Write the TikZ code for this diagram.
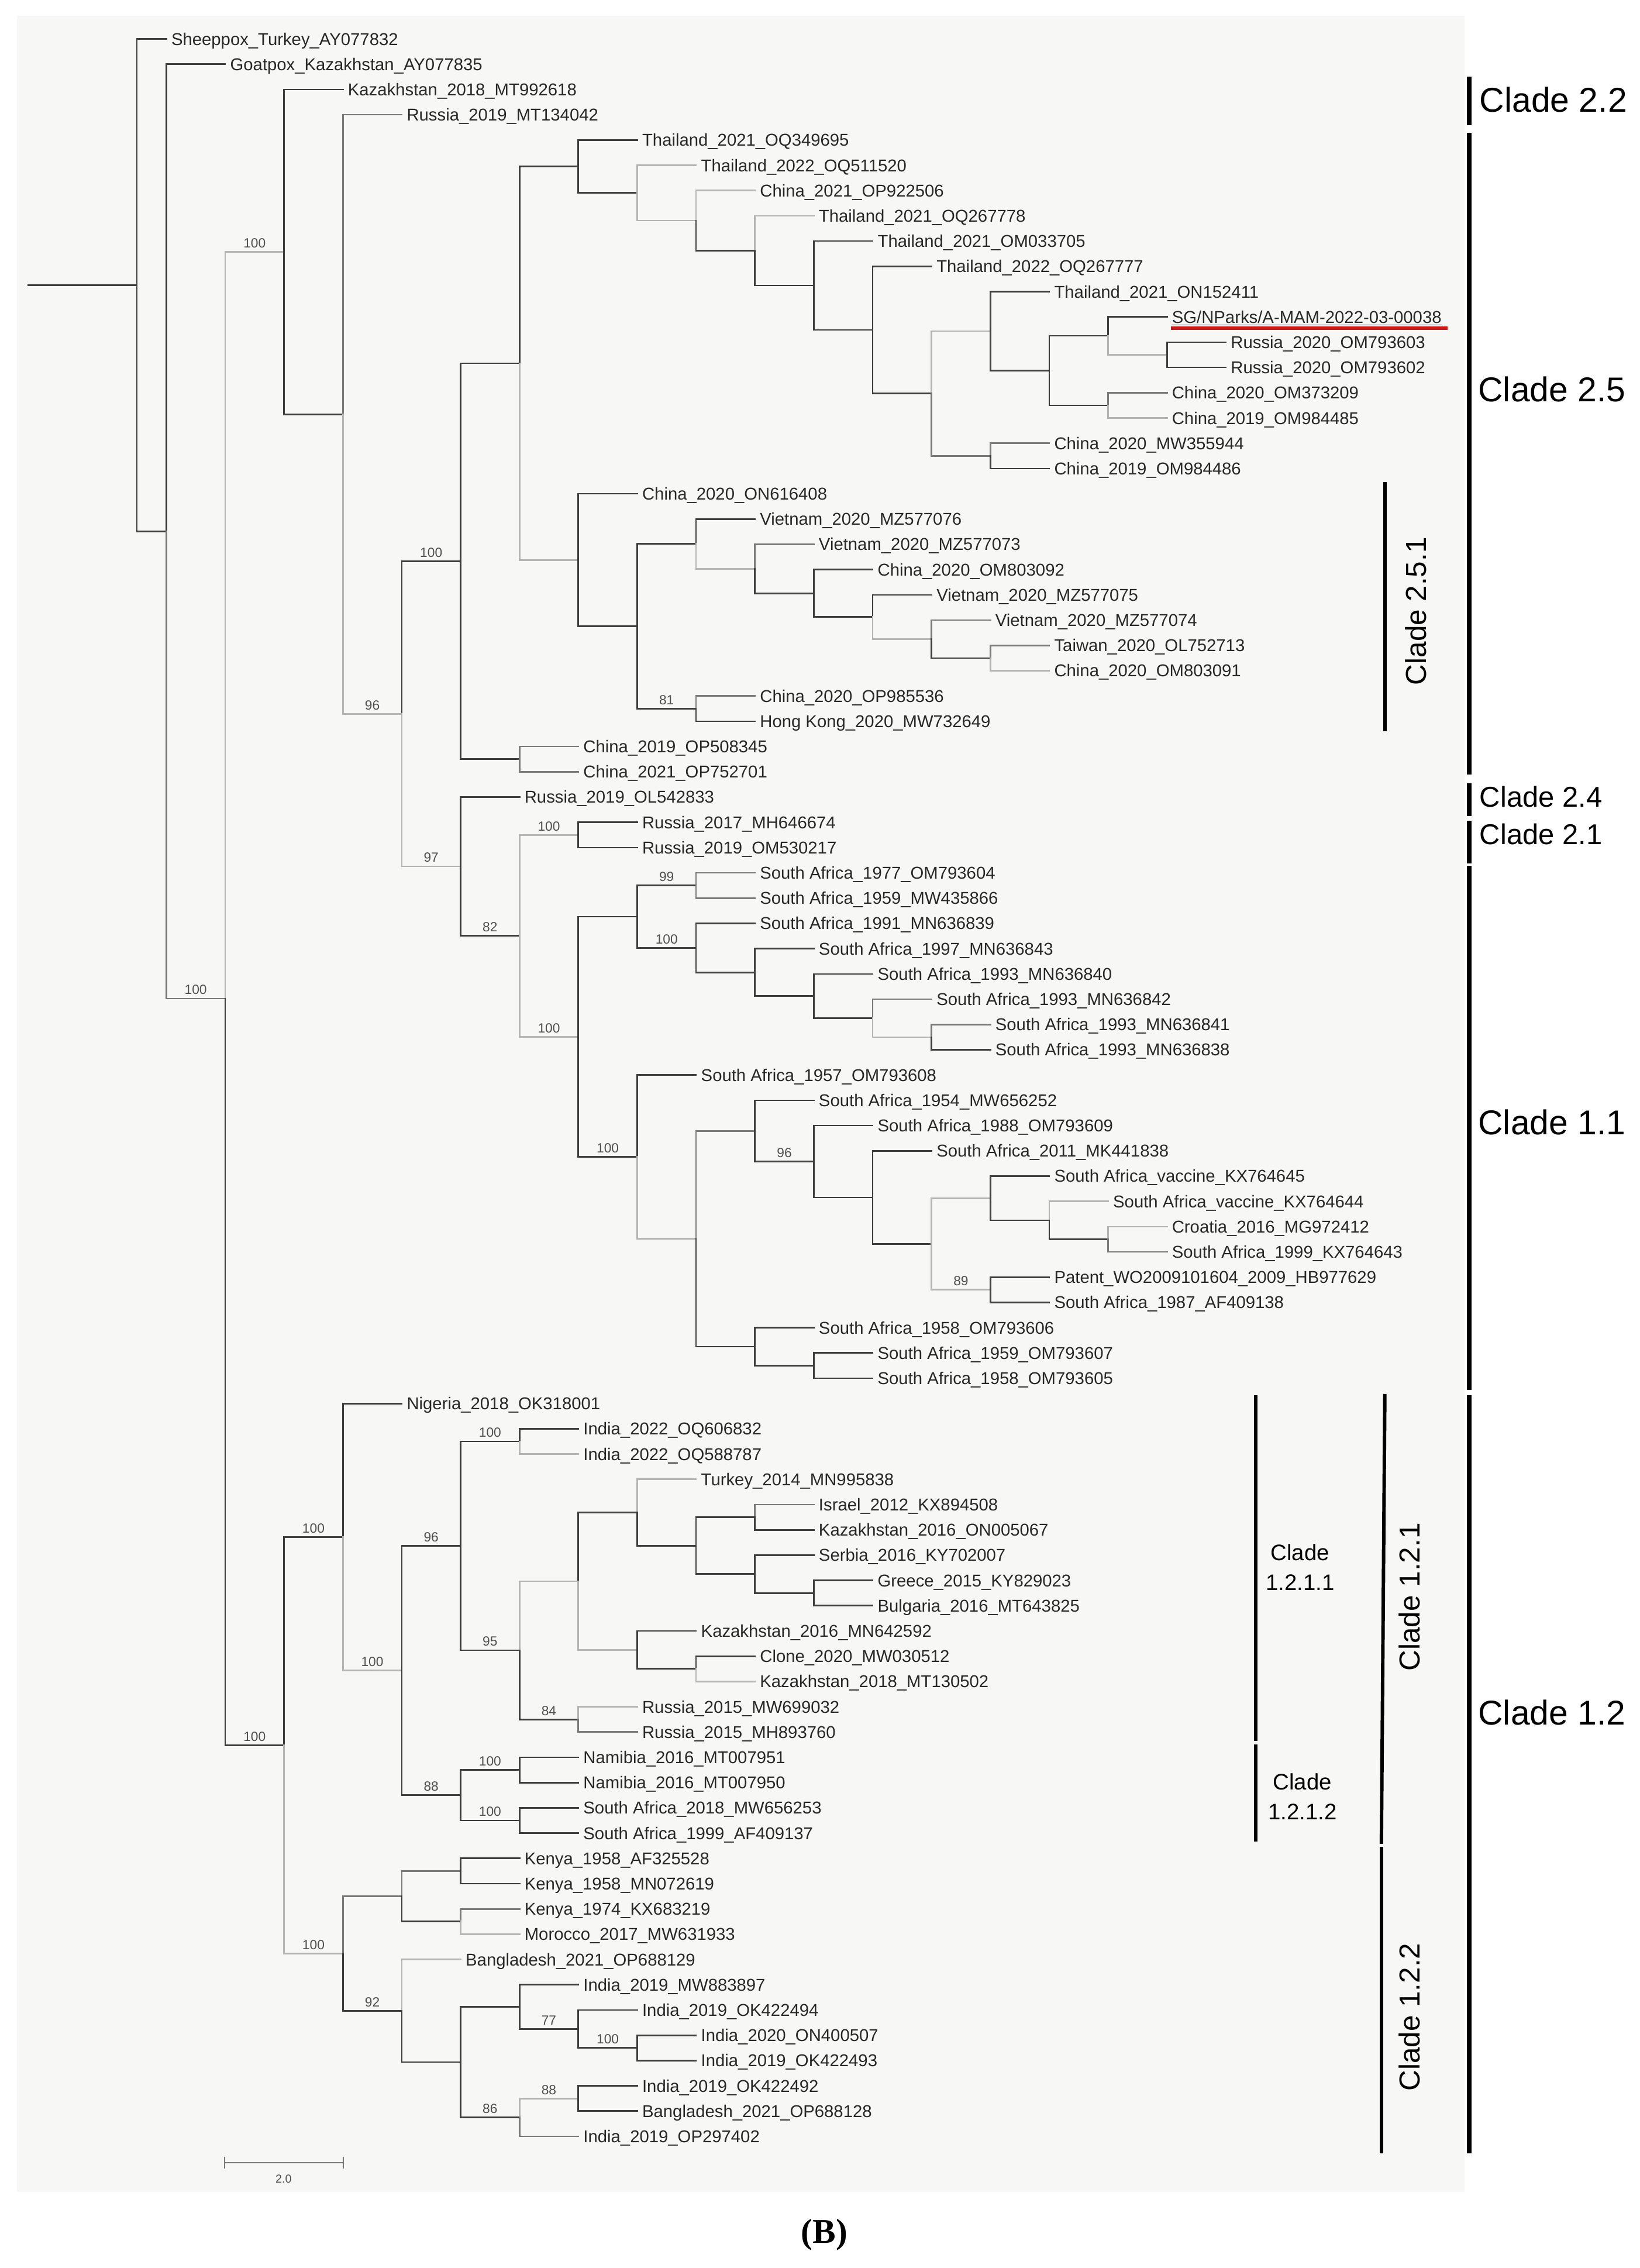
\documentclass[tikz,border=0pt]{standalone}
\usepackage{fontspec}
\setmainfont{Liberation Sans}
\newfontfamily\capfont{Liberation Serif}
\definecolor{bgc}{RGB}{247,247,246}
\definecolor{dk}{RGB}{62,62,62}
\definecolor{md}{RGB}{122,122,122}
\definecolor{lt}{RGB}{180,180,180}
\definecolor{txt}{RGB}{40,40,40}
\definecolor{bsc}{RGB}{80,80,80}
\definecolor{redl}{RGB}{205,22,22}
\newcommand\Xl[1]{115+40.7*(#1)}
\newcommand\Yi[1]{26.9+17.471*((#1)-1)}
\newcommand\inode[3]{\coordinate (#1) at ({\Xl{#2}},{\Yi{#3}});}
\newcommand\leaf[4]{\node[leaf] (#1) at ({\Xl{#2}},{\Yi{#3}}) {#4};}
\newcommand\bsl[4]{\node[boot] (bs#1) at ({\Xl{#2-0.5}},{\Yi{#3}-2.7}) {#4};}
\newcommand\ei[3]{\draw[#1] (#2) |- (#3);}
\newcommand\el[3]{\draw[#1] (#2) |- (#3.west);}
\tikzset{
 edk/.style={draw=dk, line width=1.1pt, line cap=rect},
 emd/.style={draw=md, line width=1.1pt, line cap=rect},
 elt/.style={draw=lt, line width=1.1pt, line cap=rect},
 leaf/.style={anchor=west, inner xsep=3.3pt, inner ysep=0pt, text height=8.5pt, text depth=0pt, font=\fontsize{11.85}{14}\selectfont, text=txt},
 boot/.style={anchor=south, inner sep=0pt, text height=6.6pt, text depth=0pt, font=\fontsize{9.2}{11}\selectfont, text=bsc},
 cladebar/.style={line width=3.3pt, draw=black},
 subbar/.style={line width=2.4pt, draw=black},
 cladebig/.style={anchor=west, inner sep=0pt, font=\fontsize{23.8}{28}\selectfont},
 cladesm/.style={anchor=west, inner sep=0pt, font=\fontsize{19.8}{24}\selectfont},
 claderot/.style={rotate=90, inner sep=0pt, font=\fontsize{20}{24}\selectfont},
 cladetwo/.style={inner sep=0pt, align=center, font=\fontsize{15.5}{20.4}\selectfont}
}
\begin{document}
\begin{tikzpicture}[x=1pt,y=-1pt]
\useasboundingbox (0,0) rectangle (1134,1568);
\fill[bgc] (11.7,11.1) rectangle (1012.7,1515.5);
% internal nodes
\coordinate (root) at (19.4,{\Yi{10.7439}});
\inode{A}{-0.5}{10.7439}
\inode{B}{0}{20.4878}
\inode{C}{1}{38.9756}
\inode{D}{2}{9.4268}
\inode{E}{3}{15.8535}
\inode{F}{4}{27.7070}
\inode{G}{5}{21.6671}
\inode{H}{5}{33.7468}
\inode{I}{6}{13.8342}
\inode{J}{6}{29.5}
\inode{K}{7}{6.0474}
\inode{L}{7}{21.6211}
\inode{M}{8}{7.0947}
\inode{N}{9}{8.1895}
\inode{O}{10}{9.3789}
\inode{P}{11}{10.7578}
\inode{Q}{12}{12.515625}
\inode{R}{13}{15.03125}
\inode{S}{14}{12.5625}
\inode{T}{14}{17.5}
\inode{U}{15}{14.125}
\inode{V}{16}{12.75}
\inode{W}{16}{15.5}
\inode{X}{17}{13.5}
\inode{Y}{8}{24.2422}
\inode{Z}{9}{20.984375}
\inode{AA}{9}{27.5}
\inode{AB}{10}{21.96875}
\inode{AC}{11}{22.9375}
\inode{AD}{12}{23.875}
\inode{AE}{13}{24.75}
\inode{AF}{14}{25.5}
\inode{BA}{6}{36.4937}
\inode{BB}{7}{32.5}
\inode{BC}{7}{40.4873}
\inode{BD}{8}{35.734375}
\inode{BE}{8}{45.2402}
\inode{BF}{9}{34.5}
\inode{BG}{9}{36.96875}
\inode{BH}{10}{37.9375}
\inode{BI}{11}{38.875}
\inode{BJ}{12}{39.75}
\inode{BK}{13}{40.5}
\inode{BL}{9}{48.4805}
\inode{BM}{10}{44.2109}
\inode{BN}{10}{52.75}
\inode{BO}{11}{45.421875}
\inode{BP}{12}{46.84375}
\inode{BQ}{13}{48.6875}
\inode{BR}{14}{46.875}
\inode{BS}{14}{50.5}
\inode{BT}{15}{47.75}
\inode{BU}{16}{48.5}
\inode{BV}{11}{53.5}
\inode{CA}{2}{68.5244}
\inode{CB}{3}{60.2832}
\inode{CC}{3}{76.765625}
\inode{CD}{4}{65.5664}
\inode{CE}{5}{60.6328}
\inode{CF}{5}{70.5}
\inode{CG}{6}{56.5}
\inode{CH}{6}{64.765625}
\inode{CI}{7}{62.03125}
\inode{CJ}{7}{67.5}
\inode{CK}{8}{59.3125}
\inode{CL}{8}{64.75}
\inode{CM}{9}{60.625}
\inode{CN}{10}{59.5}
\inode{CO}{10}{61.75}
\inode{CP}{11}{62.5}
\inode{CQ}{9}{65.5}
\inode{CR}{6}{69.5}
\inode{CS}{6}{71.5}
\inode{CT}{4}{74.5}
\inode{CU}{4}{79.03125}
\inode{CV}{5}{73.5}
\inode{CW}{5}{75.5}
\inode{CX}{5}{81.0625}
\inode{CY}{6}{78.875}
\inode{CZ}{6}{83.25}
\inode{DA}{7}{79.75}
\inode{DB}{8}{80.5}
\inode{DC}{7}{82.5}
% leaves
\leaf{l1}{0}{1}{Sheeppox\_Turkey\_AY077832}
\leaf{l2}{1}{2}{Goatpox\_Kazakhstan\_AY077835}
\leaf{l3}{3}{3}{Kazakhstan\_2018\_MT992618}
\leaf{l4}{4}{4}{Russia\_2019\_MT134042}
\leaf{l5}{8}{5}{Thailand\_2021\_OQ349695}
\leaf{l6}{9}{6}{Thailand\_2022\_OQ511520}
\leaf{l7}{10}{7}{China\_2021\_OP922506}
\leaf{l8}{11}{8}{Thailand\_2021\_OQ267778}
\leaf{l9}{12}{9}{Thailand\_2021\_OM033705}
\leaf{l10}{13}{10}{Thailand\_2022\_OQ267777}
\leaf{l11}{15}{11}{Thailand\_2021\_ON152411}
\leaf{l12}{17}{12}{SG/NParks/A-MAM-2022-03-00038}
\leaf{l13}{18}{13}{Russia\_2020\_OM793603}
\leaf{l14}{18}{14}{Russia\_2020\_OM793602}
\leaf{l15}{17}{15}{China\_2020\_OM373209}
\leaf{l16}{17}{16}{China\_2019\_OM984485}
\leaf{l17}{15}{17}{China\_2020\_MW355944}
\leaf{l18}{15}{18}{China\_2019\_OM984486}
\leaf{l19}{8}{19}{China\_2020\_ON616408}
\leaf{l20}{10}{20}{Vietnam\_2020\_MZ577076}
\leaf{l21}{11}{21}{Vietnam\_2020\_MZ577073}
\leaf{l22}{12}{22}{China\_2020\_OM803092}
\leaf{l23}{13}{23}{Vietnam\_2020\_MZ577075}
\leaf{l24}{14}{24}{Vietnam\_2020\_MZ577074}
\leaf{l25}{15}{25}{Taiwan\_2020\_OL752713}
\leaf{l26}{15}{26}{China\_2020\_OM803091}
\leaf{l27}{10}{27}{China\_2020\_OP985536}
\leaf{l28}{10}{28}{Hong Kong\_2020\_MW732649}
\leaf{l29}{7}{29}{China\_2019\_OP508345}
\leaf{l30}{7}{30}{China\_2021\_OP752701}
\leaf{l31}{6}{31}{Russia\_2019\_OL542833}
\leaf{l32}{8}{32}{Russia\_2017\_MH646674}
\leaf{l33}{8}{33}{Russia\_2019\_OM530217}
\leaf{l34}{10}{34}{South Africa\_1977\_OM793604}
\leaf{l35}{10}{35}{South Africa\_1959\_MW435866}
\leaf{l36}{10}{36}{South Africa\_1991\_MN636839}
\leaf{l37}{11}{37}{South Africa\_1997\_MN636843}
\leaf{l38}{12}{38}{South Africa\_1993\_MN636840}
\leaf{l39}{13}{39}{South Africa\_1993\_MN636842}
\leaf{l40}{14}{40}{South Africa\_1993\_MN636841}
\leaf{l41}{14}{41}{South Africa\_1993\_MN636838}
\leaf{l42}{9}{42}{South Africa\_1957\_OM793608}
\leaf{l43}{11}{43}{South Africa\_1954\_MW656252}
\leaf{l44}{12}{44}{South Africa\_1988\_OM793609}
\leaf{l45}{13}{45}{South Africa\_2011\_MK441838}
\leaf{l46}{15}{46}{South Africa\_vaccine\_KX764645}
\leaf{l47}{16}{47}{South Africa\_vaccine\_KX764644}
\leaf{l48}{17}{48}{Croatia\_2016\_MG972412}
\leaf{l49}{17}{49}{South Africa\_1999\_KX764643}
\leaf{l50}{15}{50}{Patent\_WO2009101604\_2009\_HB977629}
\leaf{l51}{15}{51}{South Africa\_1987\_AF409138}
\leaf{l52}{11}{52}{South Africa\_1958\_OM793606}
\leaf{l53}{12}{53}{South Africa\_1959\_OM793607}
\leaf{l54}{12}{54}{South Africa\_1958\_OM793605}
\leaf{l55}{4}{55}{Nigeria\_2018\_OK318001}
\leaf{l56}{7}{56}{India\_2022\_OQ606832}
\leaf{l57}{7}{57}{India\_2022\_OQ588787}
\leaf{l58}{9}{58}{Turkey\_2014\_MN995838}
\leaf{l59}{11}{59}{Israel\_2012\_KX894508}
\leaf{l60}{11}{60}{Kazakhstan\_2016\_ON005067}
\leaf{l61}{11}{61}{Serbia\_2016\_KY702007}
\leaf{l62}{12}{62}{Greece\_2015\_KY829023}
\leaf{l63}{12}{63}{Bulgaria\_2016\_MT643825}
\leaf{l64}{9}{64}{Kazakhstan\_2016\_MN642592}
\leaf{l65}{10}{65}{Clone\_2020\_MW030512}
\leaf{l66}{10}{66}{Kazakhstan\_2018\_MT130502}
\leaf{l67}{8}{67}{Russia\_2015\_MW699032}
\leaf{l68}{8}{68}{Russia\_2015\_MH893760}
\leaf{l69}{7}{69}{Namibia\_2016\_MT007951}
\leaf{l70}{7}{70}{Namibia\_2016\_MT007950}
\leaf{l71}{7}{71}{South Africa\_2018\_MW656253}
\leaf{l72}{7}{72}{South Africa\_1999\_AF409137}
\leaf{l73}{6}{73}{Kenya\_1958\_AF325528}
\leaf{l74}{6}{74}{Kenya\_1958\_MN072619}
\leaf{l75}{6}{75}{Kenya\_1974\_KX683219}
\leaf{l76}{6}{76}{Morocco\_2017\_MW631933}
\leaf{l77}{5}{77}{Bangladesh\_2021\_OP688129}
\leaf{l78}{7}{78}{India\_2019\_MW883897}
\leaf{l79}{8}{79}{India\_2019\_OK422494}
\leaf{l80}{9}{80}{India\_2020\_ON400507}
\leaf{l81}{9}{81}{India\_2019\_OK422493}
\leaf{l82}{8}{82}{India\_2019\_OK422492}
\leaf{l83}{8}{83}{Bangladesh\_2021\_OP688128}
\leaf{l84}{7}{84}{India\_2019\_OP297402}
% branches
\draw[edk] (root) -- (A);
\el{edk}{A}{l1} \ei{edk}{A}{B}
\el{edk}{B}{l2} \ei{emd}{B}{C}
\ei{elt}{C}{D} \ei{edk}{C}{CA}
\el{edk}{D}{l3} \ei{edk}{D}{E}
\el{emd}{E}{l4} \ei{elt}{E}{F}
\ei{edk}{F}{G} \ei{elt}{F}{H}
\ei{edk}{G}{I} \ei{edk}{G}{J}
\el{emd}{J}{l29} \el{emd}{J}{l30}
\ei{edk}{I}{K} \ei{elt}{I}{L}
\el{edk}{K}{l5} \ei{edk}{K}{M}
\el{elt}{M}{l6} \ei{elt}{M}{N}
\el{elt}{N}{l7} \ei{edk}{N}{O}
\el{elt}{O}{l8} \ei{edk}{O}{P}
\el{edk}{P}{l9} \ei{edk}{P}{Q}
\el{edk}{Q}{l10} \ei{edk}{Q}{R}
\ei{elt}{R}{S} \ei{emd}{R}{T}
\el{edk}{S}{l11} \ei{edk}{S}{U}
\ei{edk}{U}{V} \ei{edk}{U}{W}
\el{edk}{V}{l12} \ei{elt}{V}{X}
\el{edk}{X}{l13} \el{edk}{X}{l14}
\el{emd}{W}{l15} \el{elt}{W}{l16}
\el{emd}{T}{l17} \el{edk}{T}{l18}
\el{edk}{L}{l19} \ei{edk}{L}{Y}
\ei{edk}{Y}{Z} \ei{edk}{Y}{AA}
\el{edk}{Z}{l20} \ei{elt}{Z}{AB}
\el{emd}{AB}{l21} \ei{edk}{AB}{AC}
\el{edk}{AC}{l22} \ei{edk}{AC}{AD}
\el{edk}{AD}{l23} \ei{elt}{AD}{AE}
\el{emd}{AE}{l24} \ei{edk}{AE}{AF}
\el{emd}{AF}{l25} \el{elt}{AF}{l26}
\el{emd}{AA}{l27} \el{edk}{AA}{l28}
\el{edk}{H}{l31} \ei{edk}{H}{BA}
\ei{elt}{BA}{BB} \ei{elt}{BA}{BC}
\el{edk}{BB}{l32} \el{edk}{BB}{l33}
\ei{edk}{BC}{BD} \ei{edk}{BC}{BE}
\ei{edk}{BD}{BF} \ei{edk}{BD}{BG}
\el{emd}{BF}{l34} \el{emd}{BF}{l35}
\el{edk}{BG}{l36} \ei{edk}{BG}{BH}
\el{edk}{BH}{l37} \ei{edk}{BH}{BI}
\el{edk}{BI}{l38} \ei{edk}{BI}{BJ}
\el{emd}{BJ}{l39} \ei{elt}{BJ}{BK}
\el{emd}{BK}{l40} \el{edk}{BK}{l41}
\el{edk}{BE}{l42} \ei{elt}{BE}{BL}
\ei{emd}{BL}{BM} \ei{edk}{BL}{BN}
\el{edk}{BM}{l43} \ei{edk}{BM}{BO}
\el{edk}{BO}{l44} \ei{edk}{BO}{BP}
\el{edk}{BP}{l45} \ei{edk}{BP}{BQ}
\ei{elt}{BQ}{BR} \ei{elt}{BQ}{BS}
\el{edk}{BR}{l46} \ei{edk}{BR}{BT}
\el{elt}{BT}{l47} \ei{edk}{BT}{BU}
\el{elt}{BU}{l48} \el{emd}{BU}{l49}
\el{edk}{BS}{l50} \el{edk}{BS}{l51}
\el{edk}{BN}{l52} \ei{edk}{BN}{BV}
\el{edk}{BV}{l53} \el{edk}{BV}{l54}
\ei{edk}{CA}{CB} \ei{elt}{CA}{CC}
\el{edk}{CB}{l55} \ei{elt}{CB}{CD}
\ei{edk}{CD}{CE} \ei{edk}{CD}{CF}
\ei{edk}{CE}{CG} \ei{edk}{CE}{CH}
\el{edk}{CG}{l56} \el{elt}{CG}{l57}
\ei{elt}{CH}{CI} \ei{edk}{CH}{CJ}
\ei{edk}{CI}{CK} \ei{elt}{CI}{CL}
\el{elt}{CK}{l58} \ei{edk}{CK}{CM}
\ei{edk}{CM}{CN} \ei{edk}{CM}{CO}
\el{emd}{CN}{l59} \el{edk}{CN}{l60}
\el{edk}{CO}{l61} \ei{edk}{CO}{CP}
\el{edk}{CP}{l62} \el{edk}{CP}{l63}
\el{edk}{CL}{l64} \ei{edk}{CL}{CQ}
\el{edk}{CQ}{l65} \el{elt}{CQ}{l66}
\el{elt}{CJ}{l67} \el{emd}{CJ}{l68}
\ei{edk}{CF}{CR} \ei{edk}{CF}{CS}
\el{edk}{CR}{l69} \el{edk}{CR}{l70}
\el{edk}{CS}{l71} \el{edk}{CS}{l72}
\ei{emd}{CC}{CT} \ei{edk}{CC}{CU}
\ei{emd}{CT}{CV} \ei{edk}{CT}{CW}
\el{edk}{CV}{l73} \el{edk}{CV}{l74}
\el{emd}{CW}{l75} \el{elt}{CW}{l76}
\el{elt}{CU}{l77} \ei{edk}{CU}{CX}
\ei{edk}{CX}{CY} \ei{edk}{CX}{CZ}
\el{edk}{CY}{l78} \ei{edk}{CY}{DA}
\el{edk}{DA}{l79} \ei{edk}{DA}{DB}
\el{edk}{DB}{l80} \el{edk}{DB}{l81}
\ei{elt}{CZ}{DC} \el{emd}{CZ}{l84}
\el{edk}{DC}{l82} \el{edk}{DC}{l83}
% bootstrap values
\bsl{C}{1}{38.9756}{100}
\bsl{D}{2}{9.4268}{100}
\bsl{F}{4}{27.7070}{96}
\bsl{G}{5}{21.6671}{100}
\bsl{H}{5}{33.7468}{97}
\bsl{AA}{9}{27.5}{81}
\bsl{BA}{6}{36.4937}{82}
\bsl{BB}{7}{32.5}{100}
\bsl{BC}{7}{40.4873}{100}
\bsl{BE}{8}{45.2402}{100}
\bsl{BF}{9}{34.5}{99}
\bsl{BG}{9}{36.96875}{100}
\bsl{BO}{11}{45.421875}{96}
\bsl{BS}{14}{50.5}{89}
\bsl{CA}{2}{68.5244}{100}
\bsl{CB}{3}{60.2832}{100}
\bsl{CC}{3}{76.765625}{100}
\bsl{CD}{4}{65.5664}{100}
\bsl{CE}{5}{60.6328}{96}
\bsl{CF}{5}{70.5}{88}
\bsl{CG}{6}{56.5}{100}
\bsl{CH}{6}{64.765625}{95}
\bsl{CJ}{7}{67.5}{84}
\bsl{CR}{6}{69.5}{100}
\bsl{CS}{6}{71.5}{100}
\bsl{CU}{4}{79.03125}{92}
\bsl{DA}{7}{79.75}{77}
\bsl{DB}{8}{80.5}{100}
\bsl{CZ}{6}{83.25}{86}
\bsl{DC}{7}{82.5}{88}
% highlight of the Singapore sample
\draw[txt, line width=0.6pt] ([xshift=3.3pt,yshift=-5.5pt]l12.west) -- ([xshift=-3.3pt,yshift=-5.5pt]l12.east);
\draw[redl, line width=2.6pt] ([xshift=2.7pt,yshift=-7.7pt]l12.west) -- ++(191.4pt,0pt);
% scale bar
\coordinate (sb1) at (155.2,1495.2);
\coordinate (sb2) at (237.4,1495.2);
\draw[md, line width=1pt] (sb1) -- (sb2);
\draw[md, line width=1pt] (155.2,1491) -- (155.2,1499.4);
\draw[md, line width=1pt] (237.4,1491) -- (237.4,1499.4);
\node[inner sep=0pt, font=\fontsize{8}{9}\selectfont, text=bsc] (sbl) at (196.1,1506.5) {2.0};
% clade bars
\draw[cladebar] (1016,52.8) -- (1016,86.5);
\draw[cladebar] (1016,92) -- (1016,535.6);
\draw[cladebar] (1016,541.7) -- (1016,564.3);
\draw[cladebar] (1016,567.3) -- (1016,597);
\draw[cladebar] (1016,598.5) -- (1016,961.1);
\draw[cladebar] (1016,964.7) -- (1016,1488.9);
\draw[subbar] (957.6,333.4) -- (957.6,505.4);
\draw[subbar] (957.6,963.7) -- (955.2,1274.7);
\draw[subbar] (955.2,1276.7) -- (955.2,1488.9);
\draw[subbar] (868.2,964.7) -- (868.2,1203.4);
\draw[subbar] (868.2,1205.9) -- (868.2,1273.2);
% clade labels
\node[cladebig] (c22) at (1023,68.9) {Clade 2.2};
\node[cladebig] (c25) at (1022,269.1) {Clade 2.5};
\node[cladesm] (c24) at (1023,550.7) {Clade 2.4};
\node[cladesm] (c21) at (1023,576.9) {Clade 2.1};
\node[cladebig] (c11) at (1022,776) {Clade 1.1};
\node[cladebig] (c12) at (1022,1184) {Clade 1.2};
\node[claderot] (c251) at (979,422.5) {Clade 2.5.1};
\node[claderot] (c121) at (974.6,1104) {Clade 1.2.1};
\node[claderot] (c122) at (974.6,1394.5) {Clade 1.2.2};
\node[cladetwo] (c1211) at (899,1083.5) {Clade\\1.2.1.1};
\node[cladetwo] (c1212) at (900.6,1242) {Clade\\1.2.1.2};
% panel label
\node[inner sep=0pt, font=\capfont\bfseries\fontsize{24}{28}\selectfont] (panel) at (570,1545) {(B)};
\end{tikzpicture}
\end{document}
